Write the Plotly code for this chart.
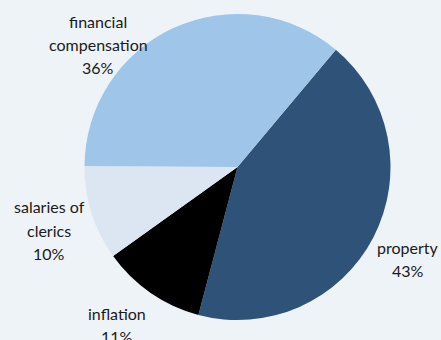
import plotly.graph_objects as go

# Shares of church-related spending, in percent
categories = ["property", "inflation", "salaries of clerics", "financial compensation"]
shares = [43, 11, 10, 36]
colors = ["#2F5279", "#000000", "#DCE6F2", "#9FC5E8"]

# Label anchor (paper coords) and wrapped label lines per category
label_lines = {
    "property": ["property"],
    "inflation": ["inflation"],
    "salaries of clerics": ["salaries of", "clerics"],
    "financial compensation": ["financial", "compensation"],
}
label_pos = {
    "property": (408, 247),
    "inflation": (117, 313),
    "salaries of clerics": (49, 207),
    "financial compensation": (98, 22),
}

W, H = 441, 340
cx, cy, r = 237.5, 167, 153

fig = go.Figure(
    go.Pie(
        labels=categories,
        values=shares,
        marker=dict(colors=colors, line=dict(width=0)),
        sort=False,
        direction="clockwise",
        rotation=40,
        textinfo="none",
        hoverinfo="label+percent",
        domain=dict(x=[(cx - r) / W, (cx + r) / W], y=[1 - (cy + r) / H, 1 - (cy - r) / H]),
        showlegend=False,
    )
)

line_gap = 23
for cat, val in zip(categories, shares):
    x0, y0 = label_pos[cat]
    lines = label_lines[cat] + [f"{val}%"]
    for i, t in enumerate(lines):
        fig.add_annotation(
            x=x0 / W,
            y=1 - (y0 + i * line_gap) / H,
            xref="paper",
            yref="paper",
            text=t,
            showarrow=False,
            xanchor="center",
            yanchor="middle",
            font=dict(family="Lato", size=16, color="#1a1a1a"),
        )

fig.update_layout(
    width=W,
    height=H,
    margin=dict(l=0, r=0, t=0, b=0),
    paper_bgcolor="#EEF3F8",
    plot_bgcolor="#EEF3F8",
)

fig.write_html("out.html")
